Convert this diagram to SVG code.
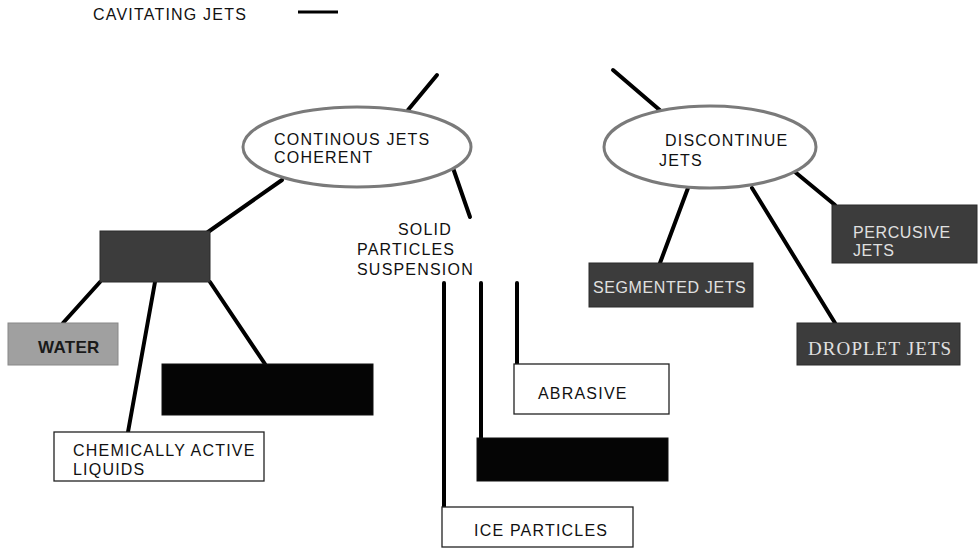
<svg xmlns="http://www.w3.org/2000/svg" width="978" height="548" viewBox="0 0 978 548">
<style>
.t{font-family:"Liberation Sans",Arial,sans-serif;font-size:16px;letter-spacing:1.2px;fill:#111}
.tw{font-family:"Liberation Sans",Arial,sans-serif;font-size:16px;letter-spacing:0.6px;fill:#e0e0e0}
.ts{font-family:"Liberation Serif","Times New Roman",serif;font-size:19px;letter-spacing:1.1px;fill:#e0e0e0}
.ell{fill:#fff;stroke:#7a7a7a;stroke-width:3}
.box{fill:#fff;stroke:#222;stroke-width:1.3}
.dark{fill:#3c3c3c;stroke:#2a2a2a;stroke-width:1}
.black{fill:#050505;stroke:#111;stroke-width:1}
.grey{fill:#a0a0a0;stroke:#888;stroke-width:1}
.c{stroke:#000;stroke-width:4;fill:none;stroke-linecap:round}
</style>
<g id="legend">
<text class="t" x="93" y="20">CAVITATING JETS</text>
<line x1="298" y1="12" x2="338" y2="12" stroke="#000" stroke-width="3"/>
</g>
<g id="connectors">
<line class="c" x1="437" y1="75" x2="408" y2="110"/>
<line class="c" x1="453" y1="168" x2="470" y2="217"/>
<line class="c" x1="282" y1="180" x2="208" y2="232"/>
<line class="c" x1="100" y1="282" x2="63" y2="323"/>
<line class="c" x1="155" y1="282" x2="128" y2="432"/>
<line class="c" x1="210" y1="282" x2="265" y2="364"/>
<line class="c" x1="613" y1="70" x2="662" y2="112"/>
<line class="c" x1="795" y1="172" x2="835" y2="205"/>
<line class="c" x1="688" y1="188" x2="660" y2="263"/>
<line class="c" x1="752" y1="188" x2="835" y2="323"/>
<line class="c" x1="444" y1="283" x2="444" y2="507"/>
<line class="c" x1="481" y1="283" x2="481" y2="438"/>
<line class="c" x1="517" y1="283" x2="517" y2="364"/>
</g>
<g id="continuous">
<ellipse class="ell" cx="357" cy="147" rx="114" ry="40"/>
<text class="t" x="274" y="145">CONTINOUS JETS</text>
<text class="t" x="274" y="163">COHERENT</text>
</g>
<g id="discontinue">
<ellipse class="ell" cx="710" cy="147" rx="106" ry="41"/>
<text class="t" x="665" y="146">DISCONTINUE</text>
<text class="t" x="659" y="166">JETS</text>
</g>
<g id="liquid">
<rect class="dark" x="100" y="231" width="110" height="51"/>
</g>
<g id="water">
<rect class="grey" x="8" y="323" width="110" height="42"/>
<text x="38" y="353" style="font-family:'Liberation Sans',Arial,sans-serif;font-size:17px;font-weight:bold;letter-spacing:0.3px;fill:#1a1a1a">WATER</text>
</g>
<g id="black1">
<rect class="black" x="162" y="364" width="211" height="51"/>
</g>
<g id="chemically">
<rect class="box" x="54" y="432" width="210" height="49"/>
<text class="t" x="73" y="456">CHEMICALLY ACTIVE</text>
<text class="t" x="73" y="475">LIQUIDS</text>
</g>
<g id="solid">
<text class="t" x="398" y="235">SOLID</text>
<text class="t" x="357" y="255">PARTICLES</text>
<text class="t" x="357" y="275">SUSPENSION</text>
</g>
<g id="abrasive">
<rect class="box" x="514" y="364" width="155" height="50"/>
<text class="t" x="538" y="399">ABRASIVE</text>
</g>
<g id="black2">
<rect class="black" x="477" y="438" width="191" height="43"/>
</g>
<g id="ice">
<rect class="box" x="442" y="507" width="191" height="40"/>
<text class="t" x="474" y="536">ICE PARTICLES</text>
</g>
<g id="percusive">
<rect class="dark" x="832" y="205" width="145" height="58"/>
<text class="tw" x="853" y="238">PERCUSIVE</text>
<text class="tw" x="853" y="256">JETS</text>
</g>
<g id="segmented">
<rect class="dark" x="589" y="263" width="164" height="44"/>
<text class="tw" x="593" y="293">SEGMENTED JETS</text>
</g>
<g id="droplet">
<rect class="dark" x="797" y="323" width="163" height="42"/>
<text class="ts" x="808" y="355">DROPLET JETS</text>
</g>
</svg>
